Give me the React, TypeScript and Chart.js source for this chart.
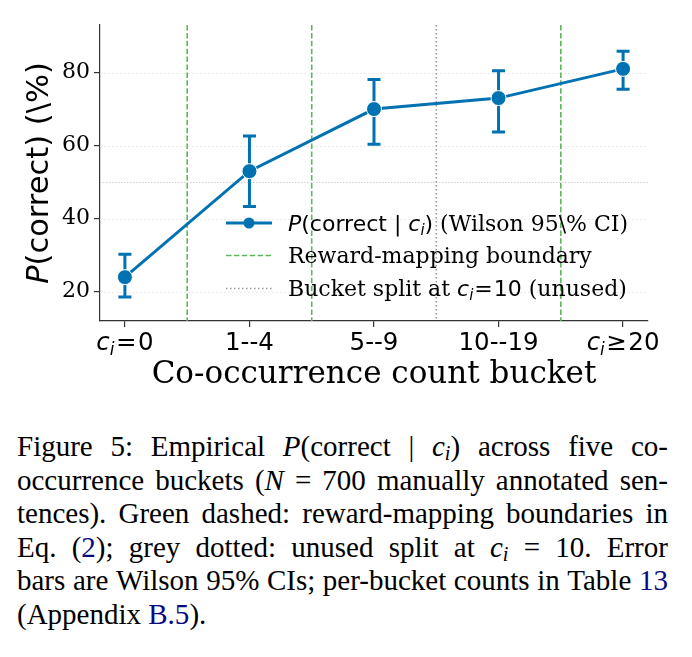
import React, { useEffect, useRef } from 'react';
import { Chart, registerables } from 'chart.js';

Chart.register(...registerables);

// Co-occurrence buckets and the empirical accuracy in each (percent)
const buckets = ['c_i=0', '1--4', '5--9', '10--19', 'c_i≥20'];
const pCorrect = [24, 53, 70, 73, 81];
const ciLower = [18.6, 43.3, 60.4, 63.7, 75.4];
const ciUpper = [30.3, 62.6, 78.1, 80.5, 85.8];
const yTicks = [20, 40, 60, 80];
const rewardBoundaries = [0.5, 1.5, 3.5];
const unusedSplit = [2.5];
const midLine = 50;

const BLUE = '#0072B2';
const GREEN = '#5cb85c';
const GREY = '#9a9a9a';
const SPINE = '#333333';
const SANS = '"DejaVu Sans"';
const SERIF = '"DejaVu Serif"';

type Seg = { t: string; it?: boolean; sub?: boolean; fam?: string; gap?: number };

function labelSegs(s: string): Seg[] {
  if (s.startsWith('c_i')) {
    const rest = s.slice(3);
    return [
      { t: 'c', it: true },
      { t: 'i', it: true, sub: true },
      { t: rest[0], gap: 1.5 },
      { t: rest.slice(1), gap: 1.5 },
    ];
  }
  return [{ t: s }];
}

function drawRich(
  ctx: CanvasRenderingContext2D,
  segs: Seg[],
  x: number,
  y: number,
  size: number,
  align: 'left' | 'center',
  fam: string
) {
  const fontOf = (s: Seg) =>
    `${s.it ? 'italic ' : ''}${s.sub ? Math.round(size * 0.7) : size}px ${s.fam || fam}`;
  const widths = segs.map((s) => {
    ctx.font = fontOf(s);
    return ctx.measureText(s.t).width + (s.gap || 0);
  });
  const total = widths.reduce((a, b) => a + b, 0);
  let cx = align === 'center' ? x - total / 2 : x;
  ctx.textAlign = 'left';
  ctx.textBaseline = 'alphabetic';
  segs.forEach((s, i) => {
    ctx.font = fontOf(s);
    ctx.fillText(s.t, cx + (s.gap || 0), s.sub ? y + size * 0.2 : y);
    cx += widths[i];
  });
}

const decorations = {
  id: 'decorations',
  beforeDatasetsDraw(chart: any) {
    const { ctx, chartArea: a, scales } = chart;
    const x = scales.x;
    const y = scales.y;
    ctx.save();
    const hLine = (py: number) => {
      ctx.beginPath();
      ctx.moveTo(a.left, py);
      ctx.lineTo(a.right, py);
      ctx.stroke();
    };
    const vLine = (px: number) => {
      ctx.beginPath();
      ctx.moveTo(px, a.top);
      ctx.lineTo(px, a.bottom);
      ctx.stroke();
    };
    // faint grid
    ctx.strokeStyle = '#ebebeb';
    ctx.lineWidth = 1;
    ctx.setLineDash([2, 2]);
    yTicks.forEach((v) => hLine(Math.round(y.getPixelForValue(v)) + 0.5));
    // 50% reference
    ctx.strokeStyle = '#cfcfcf';
    ctx.setLineDash([1.5, 1.5]);
    hLine(Math.round(y.getPixelForValue(midLine)) + 0.5);
    // reward-mapping boundaries
    ctx.strokeStyle = GREEN;
    ctx.lineWidth = 1.6;
    ctx.setLineDash([5.5, 2.4]);
    rewardBoundaries.forEach((v) => vLine(x.getPixelForValue(v)));
    // unused split
    ctx.strokeStyle = GREY;
    ctx.lineWidth = 1.5;
    ctx.setLineDash([1.5, 2.5]);
    unusedSplit.forEach((v) => vLine(x.getPixelForValue(v)));
    // Wilson error bars
    ctx.setLineDash([]);
    ctx.strokeStyle = BLUE;
    ctx.lineWidth = 3;
    pCorrect.forEach((_, i) => {
      const px = x.getPixelForValue(i);
      const top = y.getPixelForValue(ciUpper[i]);
      const bot = y.getPixelForValue(ciLower[i]);
      ctx.beginPath();
      ctx.moveTo(px, top);
      ctx.lineTo(px, bot);
      ctx.moveTo(px - 6.5, top);
      ctx.lineTo(px + 6.5, top);
      ctx.moveTo(px - 6.5, bot);
      ctx.lineTo(px + 6.5, bot);
      ctx.stroke();
    });
    ctx.restore();
  },
  afterDraw(chart: any) {
    const { ctx, chartArea: a, scales } = chart;
    const x = scales.x;
    ctx.save();
    ctx.fillStyle = '#000';
    // bucket labels
    buckets.forEach((b, i) => {
      drawRich(ctx, labelSegs(b), x.getPixelForValue(i), a.bottom + 29, 24.5, 'center', SANS);
    });
    // axis titles
    ctx.font = `31px ${SERIF}`;
    ctx.textAlign = 'center';
    ctx.textBaseline = 'alphabetic';
    ctx.fillText('Co-occurrence count bucket', (a.left + a.right) / 2, 383);
    ctx.save();
    ctx.translate(48, (a.top + a.bottom) / 2);
    ctx.rotate(-Math.PI / 2);
    drawRich(ctx, [{ t: 'P', it: true }, { t: '(correct) (\\%)' }], 0, 0, 30.5, 'center', SANS);
    ctx.restore();

    // legend
    const hx0 = 226;
    const hx1 = 272;
    const tx = 288;
    const rows = [223, 255.5, 288.5];
    ctx.lineCap = 'butt';
    ctx.strokeStyle = BLUE;
    ctx.lineWidth = 3;
    ctx.beginPath();
    ctx.moveTo(hx0, rows[0]);
    ctx.lineTo(hx1, rows[0]);
    ctx.stroke();
    ctx.fillStyle = BLUE;
    ctx.beginPath();
    ctx.arc((hx0 + hx1) / 2, rows[0], 5.5, 0, Math.PI * 2);
    ctx.fill();
    ctx.strokeStyle = GREEN;
    ctx.lineWidth = 1.6;
    ctx.setLineDash([5.5, 2.4]);
    ctx.beginPath();
    ctx.moveTo(hx0, rows[1]);
    ctx.lineTo(hx1, rows[1]);
    ctx.stroke();
    ctx.strokeStyle = GREY;
    ctx.lineWidth = 1.5;
    ctx.setLineDash([1.5, 2.5]);
    ctx.beginPath();
    ctx.moveTo(hx0, rows[2]);
    ctx.lineTo(hx1, rows[2]);
    ctx.stroke();
    ctx.setLineDash([]);

    ctx.fillStyle = '#000';
    const lsz = 22;
    drawRich(
      ctx,
      [
        { t: 'P', it: true, fam: SANS },
        { t: '(correct | ', fam: SANS },
        { t: 'c', it: true, fam: SANS },
        { t: 'i', it: true, sub: true, fam: SANS },
        { t: ')', fam: SANS },
        { t: ' (Wilson 95\\% CI)' },
      ],
      tx,
      rows[0] + 7.5,
      lsz,
      'left',
      SERIF
    );
    drawRich(ctx, [{ t: 'Reward-mapping boundary' }], tx, rows[1] + 7.5, lsz, 'left', SERIF);
    drawRich(
      ctx,
      [
        { t: 'Bucket split at ' },
        { t: 'c', it: true, fam: SANS },
        { t: 'i', it: true, sub: true, fam: SANS },
        { t: '=', fam: SANS, gap: 1 },
        { t: '10', fam: SANS, gap: 1 },
        { t: ' (unused)' },
      ],
      tx,
      rows[2] + 7.5,
      lsz,
      'left',
      SERIF
    );
    ctx.restore();
  },
};

const capFont: React.CSSProperties = {
  position: 'absolute',
  left: 17,
  width: 651,
  height: 34,
  lineHeight: '34px',
  fontFamily: '"Liberation Serif", "Times New Roman", serif',
  fontSize: 29,
  color: '#000',
  whiteSpace: 'nowrap',
};
const lineStyle = (k: number): React.CSSProperties => ({
  ...capFont,
  top: 429 + k * 33.5,
  display: 'flex',
  justifyContent: 'space-between',
});
const link: React.CSSProperties = { color: '#0a0a80' };
const sub: React.CSSProperties = { fontSize: '0.7em', fontStyle: 'italic', verticalAlign: '-0.22em', lineHeight: 0 };

const Ci = () => (
  <>
    <i>c</i>
    <span style={sub}>i</span>
  </>
);

export default function App() {
  const canvasRef = useRef<HTMLCanvasElement | null>(null);

  useEffect(() => {
    const canvas = canvasRef.current;
    if (!canvas) return;
    const chart = new Chart(canvas, {
      type: 'line',
      data: {
        datasets: [
          {
            data: pCorrect.map((v, i) => ({ x: i, y: v })),
            borderColor: BLUE,
            backgroundColor: BLUE,
            borderWidth: 3,
            pointRadius: 7.5,
            pointBackgroundColor: BLUE,
            pointBorderColor: '#ffffff',
            pointBorderWidth: 1,
            tension: 0,
          },
        ],
      },
      options: {
        animation: false,
        responsive: false,
        layout: { padding: { left: 0, top: 25, right: 44, bottom: 0 } },
        plugins: { legend: { display: false }, tooltip: { enabled: false } },
        scales: {
          x: {
            type: 'linear',
            min: -0.2,
            max: 4.2,
            afterBuildTicks: (s: any) => {
              s.ticks = buckets.map((_, i) => ({ value: i }));
            },
            afterFit: (s: any) => {
              s.height = 79;
            },
            ticks: { callback: () => '', autoSkip: false },
            grid: { drawOnChartArea: false, drawTicks: true, tickLength: 6, color: SPINE, lineWidth: 1.2 },
            border: { display: true, color: SPINE, width: 1.2 },
          },
          y: {
            min: 12,
            max: 93,
            afterBuildTicks: (s: any) => {
              s.ticks = yTicks.map((v) => ({ value: v }));
            },
            afterFit: (s: any) => {
              s.width = 100;
            },
            ticks: {
              color: '#000',
              padding: 4,
              font: { family: 'DejaVu Serif', size: 22 },
            },
            grid: { drawOnChartArea: false, drawTicks: true, tickLength: 6, color: SPINE, lineWidth: 1.2 },
            border: { display: true, color: SPINE, width: 1.2 },
          },
        },
      },
      plugins: [decorations],
    });
    return () => chart.destroy();
  }, []);

  return (
    <div style={{ position: 'absolute', left: 0, top: 0, width: 692, height: 657, background: '#fff' }}>
      <canvas ref={canvasRef} width={692} height={400} style={{ display: 'block', width: 692, height: 400 }} />
      <div style={lineStyle(0)}>
        <span>Figure</span>
        <span>5:</span>
        <span>Empirical</span>
        <span>
          <i>P</i>(correct
        </span>
        <span>|</span>
        <span>
          <Ci />)
        </span>
        <span>across</span>
        <span>five</span>
        <span>co-</span>
      </div>
      <div style={lineStyle(1)}>
        <span>occurrence</span>
        <span>buckets</span>
        <span>
          (<i>N</i>
        </span>
        <span>=</span>
        <span>700</span>
        <span>manually</span>
        <span>annotated</span>
        <span>sen-</span>
      </div>
      <div style={lineStyle(2)}>
        <span>tences).</span>
        <span>Green</span>
        <span>dashed:</span>
        <span>reward-mapping</span>
        <span>boundaries</span>
        <span>in</span>
      </div>
      <div style={lineStyle(3)}>
        <span>Eq.</span>
        <span>
          (<span style={link}>2</span>);
        </span>
        <span>grey</span>
        <span>dotted:</span>
        <span>unused</span>
        <span>split</span>
        <span>at</span>
        <span>
          <Ci />
        </span>
        <span>=</span>
        <span>10.</span>
        <span>Error</span>
      </div>
      <div style={lineStyle(4)}>
        <span>bars</span>
        <span>are</span>
        <span>Wilson</span>
        <span>95%</span>
        <span>CIs;</span>
        <span>per-bucket</span>
        <span>counts</span>
        <span>in</span>
        <span>Table</span>
        <span style={link}>13</span>
      </div>
      <div style={{ ...capFont, top: 429 + 5 * 33.5 }}>
        (Appendix <span style={link}>B.5</span>).
      </div>
    </div>
  );
}
